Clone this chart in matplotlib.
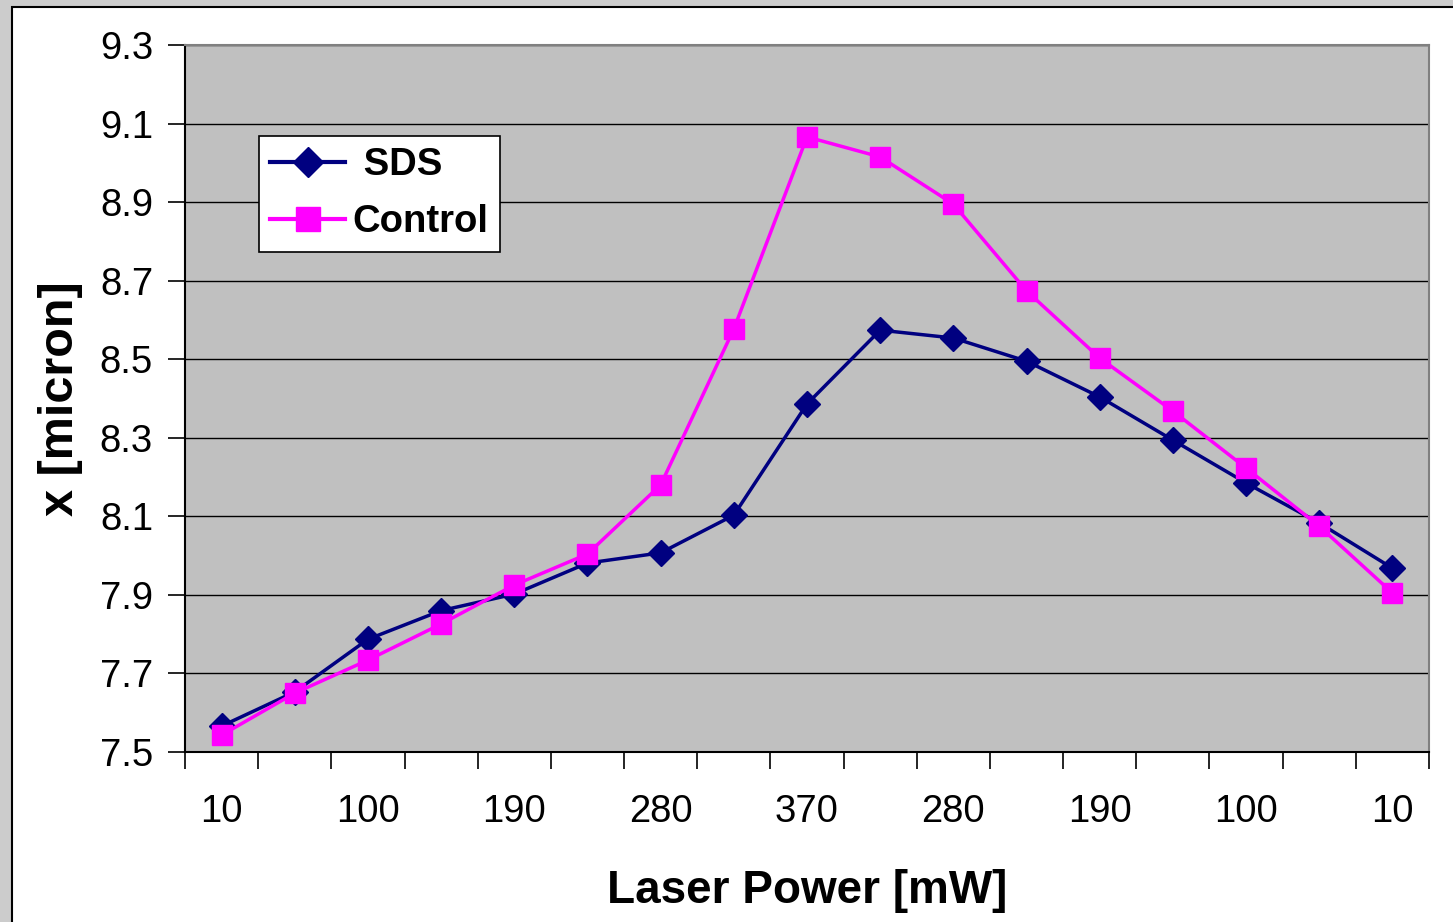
import numpy as np
import matplotlib.pyplot as plt
from matplotlib.patches import Rectangle

plt.rcParams['font.family'] = ['Liberation Sans', 'DejaVu Sans']

power = ["10", "55", "100", "145", "190", "235", "280", "325", "370",
         "325", "280", "235", "190", "145", "100", "55", "10"]
sds = [7.566, 7.653, 7.787, 7.860, 7.902, 7.981, 8.007, 8.103, 8.386,
       8.574, 8.554, 8.495, 8.404, 8.294, 8.185, 8.083, 7.968]
control = [7.543, 7.650, 7.734, 7.826, 7.925, 8.004, 8.180, 8.577, 9.066,
           9.015, 8.895, 8.674, 8.503, 8.368, 8.223, 8.075, 7.905]

fig = plt.figure(figsize=(14.53, 9.22), dpi=100)
fig.patch.set_facecolor("#cccccc")
# white chart area with black frame (Excel style)
fig.patches.append(Rectangle((12 / 1453, -0.01), 1.0, 1 - 7 / 922 + 0.01,
                             transform=fig.transFigure, facecolor="white",
                             edgecolor="black", lw=1.5, zorder=-10))

ax = fig.add_axes([185 / 1453, 1 - 752 / 922, (1429 - 185) / 1453, (752 - 45) / 922])
ax.set_facecolor("#c0c0c0")

x = np.arange(len(power))
ax.plot(x, sds, color="#000080", lw=2.5, marker="D", ms=13, label=" SDS",
        zorder=3)
ax.plot(x, control, color="#ff00ff", lw=2.5, marker="s", ms=15,
        label="Control", zorder=4)

ax.set_xlim(-0.5, len(power) - 0.5)
ax.set_ylim(7.5, 9.3)
yt = np.arange(7.5, 9.31, 0.2)
ax.set_yticks(yt)
ax.set_yticklabels([f"{v:.1f}" for v in yt])
ax.yaxis.grid(True, color="black", lw=1)
ax.set_axisbelow(True)

ax.set_xticks(np.arange(-0.5, len(power), 1.0))
ax.set_xticklabels([])
ax.set_xticks(x[::2], minor=True)
ax.set_xticklabels(power[::2], minor=True)
ax.tick_params(axis="x", which="major", length=12, width=1.2, color="black")
ax.tick_params(axis="x", which="minor", length=0, pad=30, labelsize=27.5)
ax.tick_params(axis="y", length=12, width=1.2, pad=11, labelsize=27.5)

for s in ["top", "right"]:
    ax.spines[s].set_color("#808080")
    ax.spines[s].set_linewidth(1.5)
for s in ["left", "bottom"]:
    ax.spines[s].set_color("black")
    ax.spines[s].set_linewidth(1.5)

ax.set_xlabel("Laser Power [mW]", fontsize=33, fontweight="bold", labelpad=28)
ax.set_ylabel("x [micron]", fontsize=35, fontweight="bold", labelpad=12)

leg = ax.legend(loc="upper left", bbox_to_anchor=(74 / 1244, 1 - 91 / 707),
                borderaxespad=0, prop={"weight": "bold", "size": 27.5},
                fancybox=False, framealpha=1, edgecolor="black",
                handlelength=1.95, borderpad=0.3, labelspacing=0.55,
                handletextpad=0.2, markerscale=1.15)
leg.get_frame().set_linewidth(1.2)
for h in leg.get_lines():
    h.set_linewidth(3)

fig.savefig("out.png", dpi=100, facecolor=fig.get_facecolor())
